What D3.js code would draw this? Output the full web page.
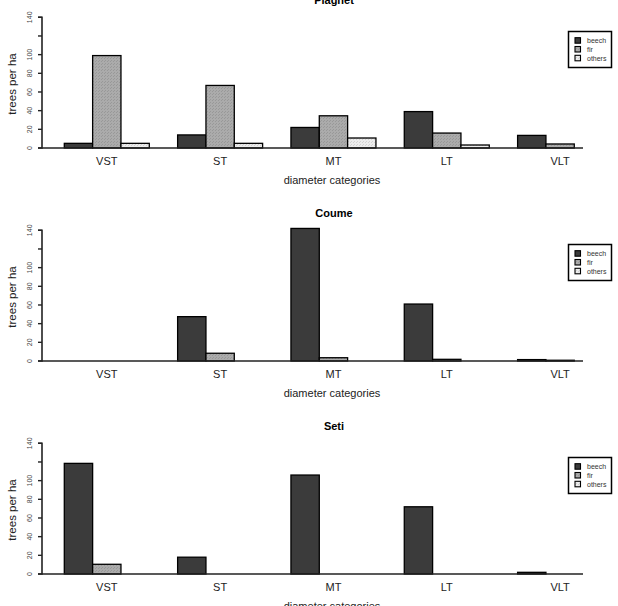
<!DOCTYPE html>
<html>
<head>
<meta charset="utf-8">
<script src="https://cdn.jsdelivr.net/npm/d3@7"></script>
<style>
  body { margin: 0; background: #fff; }
  svg { font-family: "Liberation Sans", Arial, sans-serif; }
</style>
</head>
<body>
<div id="plot"></div>
<script>
// data
const categories = ["VST", "ST", "MT", "LT", "VLT"];
const species = ["beech", "fir", "others"];
const sites = ["Plagnet", "Coume", "Seti"];

const plagnet = { beech: [5, 14, 22, 39, 13.5], fir: [99, 67, 34.5, 16, 4.3], others: [5, 5, 10.7, 3.2, 0] };
const coume   = { beech: [0, 47.5, 142, 61, 1.5], fir: [0, 8.3, 3.5, 1.8, 0.8], others: [0, 0, 0, 0, 0] };
const seti    = { beech: [118.5, 18, 106, 72, 1.8], fir: [10.4, 0, 0, 0, 0], others: [0, 0, 0, 0, 0] };
const siteData = [plagnet, coume, seti];

const yTicks = [0, 20, 40, 60, 80, 100, 120, 140];

window.addEventListener("load", main);

function main(){
  const width = 618, height = 606;
  const svg = d3.select("#plot").append("svg")
    .attr("width", width)
    .attr("height", height);

  // stipple fills like the old R postscript greys
  const defs = svg.append("defs");
  function stipple(id, base, dot){
    const p = defs.append("pattern").attr("id", id)
      .attr("patternUnits", "userSpaceOnUse").attr("width", 3).attr("height", 3);
    p.append("rect").attr("width", 3).attr("height", 3).attr("fill", base);
    p.append("rect").attr("x", 0).attr("y", 0).attr("width", 1).attr("height", 1).attr("fill", dot);
    p.append("rect").attr("x", 2).attr("y", 1).attr("width", 1).attr("height", 1).attr("fill", dot);
  }
  stipple("pFir", "#ababab", "#989898");
  stipple("pOth", "#ececec", "#d2d2d2");
  const fills = { beech: "#3b3b3b", fir: "url(#pFir)", others: "url(#pOth)" };

  const axisX = 42, baseEnd = 583;
  const x = d3.scaleBand().domain(categories).range([64.3, 602.6]).paddingInner(0.25).paddingOuter(0);
  const xs = d3.scaleBand().domain(species).range([0, x.bandwidth()]);
  const y = d3.scaleLinear().domain([0, 140]).range([148, 17.3]);

  function drawPanel(data, name, i){
    const g = svg.append("g").attr("transform", `translate(0,${i * 213})`);

    g.append("text").attr("x", 334).attr("y", 3.5)
      .attr("text-anchor", "middle").attr("font-weight", "bold")
      .attr("font-size", 11).text(name);

    // bars
    categories.forEach((c, ci) => {
      species.forEach(s => {
        const v = data[s][ci];
        if (v <= 0) return;
        g.append("rect")
          .attr("x", x(c) + xs(s))
          .attr("y", y(v))
          .attr("width", xs.bandwidth())
          .attr("height", y(0) - y(v))
          .attr("fill", fills[s])
          .attr("stroke", "#000")
          .attr("stroke-width", 1.3);
      });
    });

    // baseline
    g.append("line").attr("x1", axisX).attr("x2", baseEnd)
      .attr("y1", y(0)).attr("y2", y(0))
      .attr("stroke", "#222").attr("stroke-width", 1.5);

    // y axis
    const ya = g.append("g").attr("transform", `translate(${axisX},0)`)
      .call(d3.axisLeft(y).tickValues(yTicks).tickSize(4).tickPadding(6)
        .tickFormat(d => d === 120 ? "" : d));
    ya.select(".domain").attr("stroke", "#222").attr("stroke-width", 1.6)
      .attr("d", `M-4,${y(140)}H0V${y(0)}H-4`);
    ya.selectAll(".tick line").attr("stroke", "#222").attr("stroke-width", 1.4);
    ya.selectAll(".tick text")
      .attr("font-family", "Liberation Sans, Arial, sans-serif")
      .attr("font-size", 7).attr("fill", "#444")
      .attr("text-anchor", "middle").attr("dy", null)
      .attr("transform", "rotate(-90)")
      .attr("x", d => -y(d)).attr("y", -10);
    ya.selectAll(".tick").attr("transform", null)
      .select("line").attr("y1", d => y(d)).attr("y2", d => y(d));

    g.append("text")
      .attr("transform", `translate(16,84) rotate(-90)`)
      .attr("text-anchor", "middle").attr("font-size", 11.5).attr("fill", "#222")
      .text("trees per ha");

    // category labels
    g.selectAll(".cat").data(categories).join("text")
      .attr("x", d => x(d) + x.bandwidth() / 2)
      .attr("y", 165)
      .attr("text-anchor", "middle").attr("font-size", 11).attr("fill", "#222")
      .text(d => d);

    g.append("text").attr("x", 332).attr("y", 184)
      .attr("text-anchor", "middle").attr("font-size", 11).attr("fill", "#222")
      .text("diameter categories");

    // legend
    const lg = g.append("g");
    lg.append("rect").attr("x", 568.5).attr("y", 31.5).attr("width", 43).attr("height", 36)
      .attr("fill", "#fff").attr("stroke", "#000").attr("stroke-width", 1.5);
    species.forEach((s, k) => {
      const ry = 40.5 + k * 8.8;
      lg.append("rect").attr("x", 575).attr("y", ry - 2.8).attr("width", 5.5).attr("height", 5.5)
        .attr("fill", fills[s]).attr("stroke", "#000").attr("stroke-width", 1.1);
      lg.append("text").attr("x", 587).attr("y", ry + 2.5)
        .attr("font-size", 7).attr("fill", "#333").text(s);
    });
  }

  siteData.forEach((d, i) => drawPanel(d, sites[i], i));
}
</script>
</body>
</html>
